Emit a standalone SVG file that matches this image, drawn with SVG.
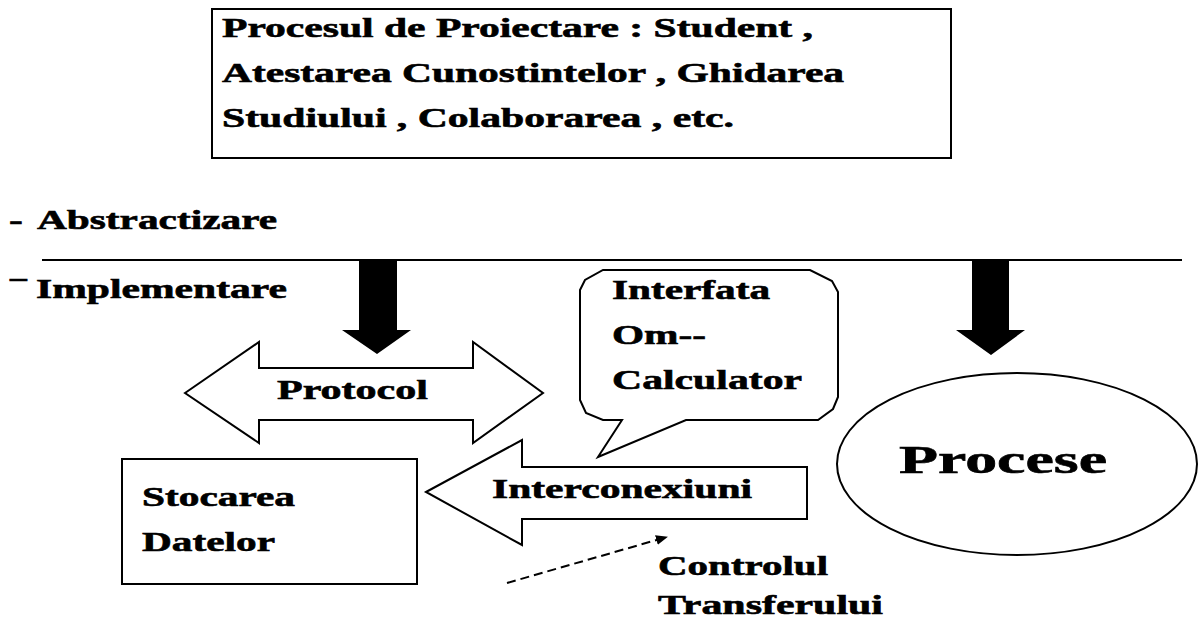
<svg xmlns="http://www.w3.org/2000/svg" width="1199" height="621" viewBox="0 0 1199 621">
<style>
.t{font-family:"Liberation Serif","Times New Roman",serif;font-weight:bold;font-size:28px;fill:#000;stroke:#000;stroke-width:0.6}
.box{fill:#fff;stroke:#000;stroke-width:2}
.blk{fill:#000;stroke:none}
</style>
<defs>
<marker id="ah" markerWidth="12" markerHeight="10" refX="11" refY="5" orient="auto" markerUnits="userSpaceOnUse" viewBox="0 0 12 10">
<path d="M0,0 L12,5 L0,10 Z" fill="#000"/>
</marker>
</defs>
<rect width="1199" height="621" fill="#fff"/>

<g id="top">
<rect class="box" x="212" y="9" width="739" height="149"/>
<text class="t" transform="translate(222,37) scale(1.48,1)" textLength="399.3" lengthAdjust="spacingAndGlyphs">Procesul de Proiectare : Student ,</text>
<text class="t" transform="translate(222,82) scale(1.48,1)" textLength="420.3" lengthAdjust="spacingAndGlyphs">Atestarea Cunostintelor , Ghidarea</text>
<text class="t" transform="translate(222,127) scale(1.48,1)" textLength="345.9" lengthAdjust="spacingAndGlyphs">Studiului , Colaborarea , etc.</text>
</g>

<g id="levels">
<text class="t" transform="translate(9,229) scale(1.48,1)">-</text>
<text class="t" transform="translate(37,229) scale(1.48,1)" textLength="162.2" lengthAdjust="spacingAndGlyphs">Abstractizare</text>
<line x1="42" y1="260" x2="1182" y2="260" stroke="#000" stroke-width="2"/>
<text class="t" transform="translate(10,300) scale(1.2,1)">¯</text>
<text class="t" transform="translate(36,298) scale(1.48,1)" textLength="169.6" lengthAdjust="spacingAndGlyphs">Implementare</text>
</g>

<g id="connectors">
<polygon class="blk" points="359,260 397,260 397,330 411,330 377,354 342,330 359,330"/>
<polygon class="blk" points="972,260 1009,260 1009,330 1025,330 991,355 956,330 972,330"/>
<line x1="507" y1="583" x2="667" y2="537" stroke="#000" stroke-width="2" stroke-dasharray="9,5" marker-end="url(#ah)"/>
</g>

<g id="protocol">
<polygon class="box" points="185,393 259,342 259,368 473,368 473,342 543,393 473,443 473,420 259,420 259,443"/>
<text class="t" transform="translate(277,399) scale(1.48,1)" textLength="102" lengthAdjust="spacingAndGlyphs">Protocol</text>
</g>

<g id="interfata">
<path class="box" d="M603,270 L810,270 L832,281 L838,292 L838,397 L833,409 L818,420 L686,420 L598,457 L622,420 L603,420 L586,413 L580,400 L580,290 L585,280 Z"/>
<text class="t" transform="translate(612,299) scale(1.48,1)" textLength="106.8" lengthAdjust="spacingAndGlyphs">Interfata</text>
<text class="t" transform="translate(612,344) scale(1.48,1)" textLength="63.5" lengthAdjust="spacingAndGlyphs">Om--</text>
<text class="t" transform="translate(612,389) scale(1.48,1)" textLength="128.4" lengthAdjust="spacingAndGlyphs">Calculator</text>
</g>

<g id="stocarea">
<rect class="box" x="122" y="459" width="295" height="125"/>
<text class="t" transform="translate(142,506) scale(1.48,1)" textLength="103.4" lengthAdjust="spacingAndGlyphs">Stocarea</text>
<text class="t" transform="translate(142,551) scale(1.48,1)" textLength="89.9" lengthAdjust="spacingAndGlyphs">Datelor</text>
</g>

<g id="interconexiuni">
<polygon class="box" points="426,492 522,440 522,467 807,467 807,519 522,519 522,545"/>
<text class="t" transform="translate(492,498) scale(1.48,1)" textLength="175.7" lengthAdjust="spacingAndGlyphs">Interconexiuni</text>
</g>

<g id="controlul">
<text class="t" transform="translate(658,575) scale(1.48,1)" textLength="114.9" lengthAdjust="spacingAndGlyphs">Controlul</text>
<text class="t" transform="translate(658,614) scale(1.48,1)" textLength="152" lengthAdjust="spacingAndGlyphs">Transferului</text>
</g>

<g id="procese">
<ellipse class="box" cx="1017" cy="464" rx="180" ry="91"/>
<text class="t" transform="translate(899,473) scale(1.59,1)" style="font-size:40px" textLength="130.8" lengthAdjust="spacingAndGlyphs">Procese</text>
</g>
</svg>
